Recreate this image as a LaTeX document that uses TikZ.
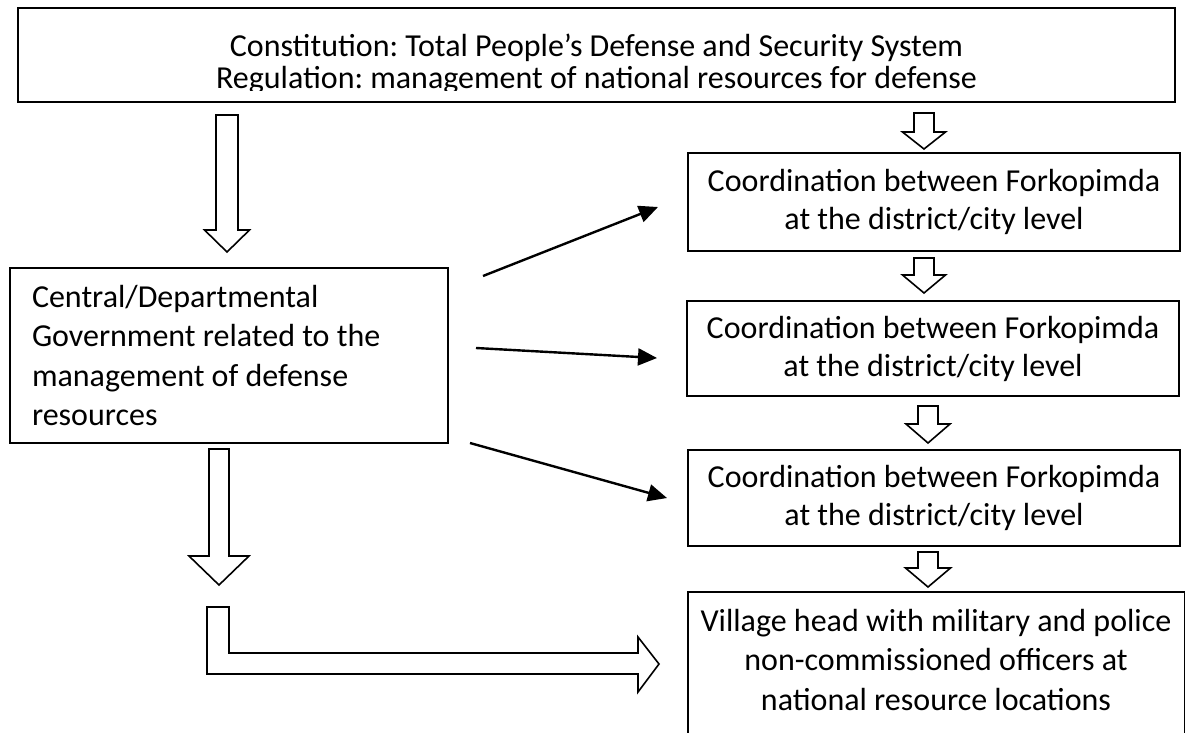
\documentclass[tikz,border=0pt]{standalone}
\usepackage{fontspec}
\setmainfont{Carlito}
\usetikzlibrary{arrows.meta}
\tikzset{
    box/.style={
        draw,
        line width=1.4pt,
        inner sep=0pt
    },
    boxtext/.style={
        font=\fontsize{32}{38}\selectfont\frenchspacing,
        align=center
    },
    district/.style={
        box,
        boxtext,
        minimum width=492pt,
        minimum height=96pt,
        execute at begin node={\rule{0pt}{#1}}
    },
    hollow/.style={
        draw,
        line width=1.6pt,
        fill=white,
        line join=miter
    },
    link/.style={
        line width=2.4pt,
        -{Triangle[length=19pt,width=17pt]}
    }
}
\newcommand{\hollowdown}[6] {
    \draw[hollow] ({#1-#4}, {#2}) -- ({#1+#4}, {#2}) -- ({#1+#4}, {#3-#6}) -- ({#1+#5}, {#3-#6})
        -- ({#1}, {#3}) -- ({#1-#5}, {#3-#6}) -- ({#1-#4}, {#3-#6}) -- cycle;
}

\begin{document}
\begin{tikzpicture}[x=1pt, y=-1pt]
    \path[use as bounding box, clip] (0,0) rectangle (1192,733);
    \node[box, minimum width=1157pt, minimum height=94pt] (law) at (596.5,55) {};
    \begin{scope}
        \clip (law.north west) rectangle ([yshift=12pt]law.south east);
        \node[boxtext, font=\fontsize{32}{32}\selectfont\frenchspacing] (lawtext) at (596.5,64)
            {Constitution: Total People's Defense and Security System\\Regulation: management of national resources for defense};
    \end{scope}
    \node[box, boxtext, font=\fontsize{32}{39.5}\selectfont\frenchspacing, align=flush left, text width=394pt, inner xsep=22pt,
        minimum width=438pt, minimum height=175pt] (central) at (229,355.5)
        {Central/Departmental\\Government related to the\\management of defense\\resources};
    \node[district=44pt, minimum height=98pt] (district1) at (934,202)
        {Coordination between Forkopimda\\at the district/city level};
    \node[district=42pt, minimum height=95pt] (district2) at (933,348.5)
        {Coordination between Forkopimda\\at the district/city level};
    \node[district=30pt] (district3) at (934,498)
        {Coordination between Forkopimda\\at the district/city level};
    \node[boxtext, font=\fontsize{32}{39.5}\selectfont\frenchspacing, minimum width=496pt, minimum height=136pt] (village) at (936,660)
        {Village head with military and police\\non-commissioned officers at\\national resource locations};
    \draw[line width=1.4pt] ([yshift=-20pt]village.south west) -- (village.north west) -- (village.north east) -- ([yshift=-20pt]village.south east);

    \hollowdown{227}{115}{252}{11}{22.5}{22}
    \hollowdown{219}{449}{585}{10}{30}{29}
    \hollowdown{924}{113}{149}{10}{21.5}{17}
    \hollowdown{924}{258}{293}{10}{21.5}{18}
    \hollowdown{928}{406}{443}{10}{22}{19}
    \hollowdown{928}{552}{587}{10}{22.5}{19}
    \draw[hollow] (207,607) -- (229,607) -- (229,653) -- (638,653) -- (638,637) -- (659,664)
        -- (638,692) -- (638,674) -- (207,674) -- cycle;

    \coordinate (g1) at (483,276);
    \coordinate (t1) at (658,207);
    \coordinate (g2) at (476,348);
    \coordinate (t2) at (657,358);
    \coordinate (g3) at (470,443);
    \coordinate (t3) at (667,498);
    \draw[link] (g1) -- (t1);
    \draw[link] (g2) -- (t2);
    \draw[link] (g3) -- (t3);
\end{tikzpicture}
\end{document}
